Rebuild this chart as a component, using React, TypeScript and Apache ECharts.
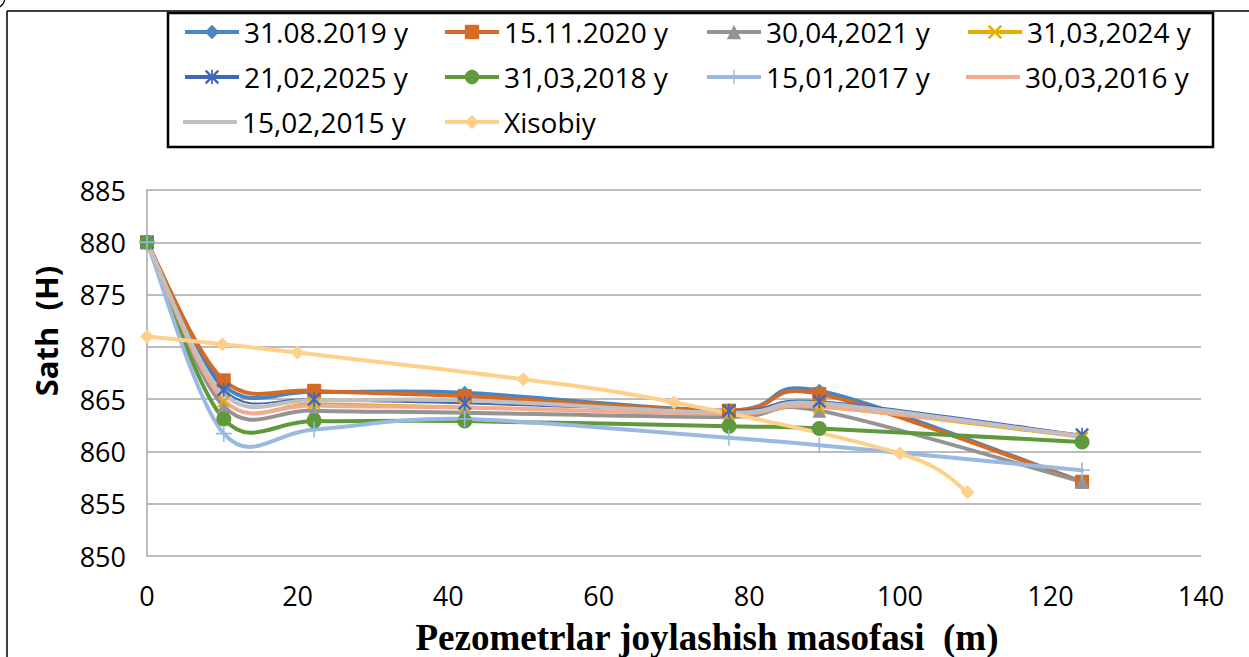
import React, { useEffect, useRef } from "react";
import * as echarts from "echarts";

// Distances of piezometers (m)
const distances = [0, 10.2, 22.2, 42.2, 77.3, 89.3, 124.2];
// Water level (H) for each measurement date
const lvl20190831 = [880, 866.3, 865.7, 865.6, 863.9, 865.8, 857.1];
const lvl20201115 = [880, 866.8, 865.8, 865.3, 863.9, 865.5, 857.1];
const lvl20210430 = [880, 864.3, 863.9, 863.7, 863.3, 863.9, 857.1];
const lvl20240331 = [880, 864.8, 864.6, 864.3, 863.6, 864.2, 861.3];
const lvl20250221 = [880, 865.9, 865.0, 864.6, 863.9, 864.8, 861.6];
const lvl20180331 = [880, 863.1, 862.9, 862.9, 862.4, 862.2, 860.9];
const lvl20170115 = [880, 861.7, 862.1, 863.1, 861.3, 860.6, 858.2];
const lvl20160330 = [880, 864.9, 864.4, 864.2, 863.6, 864.3, 861.5];
const lvl20150215 = [880, 865.5, 864.9, 864.9, 863.7, 864.6, 861.4];
// Calculated ("Xisobiy") curve
const xisobiyX = [0, 10, 20, 50, 70, 100, 109];
const xisobiyY = [871, 870.25, 869.45, 866.9, 864.7, 859.8, 856.1];

const seriesNames = [
  "31.08.2019 y",
  "15.11.2020 y",
  "30,04,2021 y",
  "31,03,2024 y",
  "21,02,2025 y",
  "31,03,2018 y",
  "15,01,2017 y",
  "30,03,2016 y",
  "15,02,2015 y",
  "Xisobiy",
];

const X_PATH = "path://M0,1.2L1.2,0L10,8.8L8.8,10Z M8.8,0L10,1.2L1.2,10L0,8.8Z";
const STAR_PATH =
  "path://M0,1.2L1.2,0L10,8.8L8.8,10Z M8.8,0L10,1.2L1.2,10L0,8.8Z M4.4,0L5.6,0L5.6,10L4.4,10Z";
const PLUS_PATH = "path://M4.5,0L5.5,0L5.5,10L4.5,10Z M0,4.5L10,4.5L10,5.5L0,5.5Z";

const FONT = "'Open Sans', 'Noto Sans', sans-serif";

// Smoothed curve (Excel-like Catmull-Rom Bezier) drawn through the axis scales
function curveSeries(key: string, xs: number[], ys: number[], color: string, width: number, z: number) {
  const n = xs.length;
  const cl = (k: number) => Math.max(0, Math.min(n - 1, k));
  return {
    name: "_curve_" + key,
    type: "custom",
    coordinateSystem: "cartesian2d",
    data: xs.map((x, i) => [x, ys[i]]),
    encode: { x: 0, y: 1 },
    silent: true,
    z,
    renderItem: (params: any, api: any) => {
      const i = params.dataIndex;
      if (i >= n - 1) return { type: "group", children: [] };
      const pt = (k: number) => api.coord([xs[cl(k)], ys[cl(k)]]);
      const p0 = pt(i - 1);
      const p1 = pt(i);
      const p2 = pt(i + 1);
      const p3 = pt(i + 2);
      return {
        type: "bezierCurve",
        shape: {
          x1: p1[0],
          y1: p1[1],
          cpx1: p1[0] + (p2[0] - p0[0]) / 6,
          cpy1: p1[1] + (p2[1] - p0[1]) / 6,
          cpx2: p2[0] - (p3[0] - p1[0]) / 6,
          cpy2: p2[1] - (p3[1] - p1[1]) / 6,
          x2: p2[0],
          y2: p2[1],
        },
        style: { stroke: color, lineWidth: width, fill: null, lineCap: "round" },
      };
    },
  };
}

function markerSeries(
  name: string,
  xs: number[],
  ys: number[],
  color: string,
  symbol: string,
  symbolSize: number,
  z: number
) {
  return {
    name,
    type: "line",
    data: xs.map((x, i) => [x, ys[i]]),
    symbol,
    symbolSize,
    showSymbol: symbol !== "none",
    symbolKeepAspect: true,
    lineStyle: { color, width: 4, opacity: 0 },
    itemStyle: { color },
    emphasis: { disabled: true },
    silent: true,
    z,
  };
}

export default function App() {
  const ref = useRef<HTMLDivElement>(null);
  useEffect(() => {
    if (!ref.current) return;
    const chart = echarts.init(ref.current, undefined, { renderer: "svg" });

    const colX = [183, 443, 705, 966];
    const rowY = [35, 80, 125];
    const noMarker = [false, false, false, false, false, false, false, true, true, false];
    const legends = seriesNames.map((n, i) => ({
      data: [n],
      left: colX[i % 4],
      top: rowY[Math.floor(i / 4)] - 17,
      padding: 0,
      itemWidth: 54,
      itemHeight: noMarker[i] ? 4 : 18,
      icon: noMarker[i] ? "rect" : undefined,
      itemGap: 0,
      selectedMode: false,
      lineStyle: { width: 4, opacity: 1 },
      textStyle: { fontSize: 28, fontFamily: FONT, color: "#000" },
    }));

    const defs: [string, number[], number[], string, string, number, number][] = [
      [seriesNames[0], distances, lvl20190831, "#4a85c1", "diamond", 14, 4],
      [seriesNames[1], distances, lvl20201115, "#d36b27", "rect", 14, 4],
      [seriesNames[2], distances, lvl20210430, "#949494", "triangle", 14, 4],
      [seriesNames[3], distances, lvl20240331, "#e6ac00", X_PATH, 13, 2],
      [seriesNames[4], distances, lvl20250221, "#4169b8", STAR_PATH, 14, 2],
      [seriesNames[5], distances, lvl20180331, "#5e9a3c", "circle", 15, 4],
      [seriesNames[6], distances, lvl20170115, "#9ab9e0", PLUS_PATH, 16, 4],
      [seriesNames[7], distances, lvl20160330, "#f2aa90", "none", 0, 4],
      [seriesNames[8], distances, lvl20150215, "#c0c0c0", "none", 0, 4],
      [seriesNames[9], xisobiyX, xisobiyY, "#ffd08a", "diamond", 14, 4],
    ];
    const series: any[] = [];
    defs.forEach((d, k) => {
      series.push(curveSeries(String(k), d[1], d[2], d[3], d[6], 2));
      series.push(markerSeries(d[0], d[1], d[2], d[3], d[4], d[5], 2));
    });

    chart.setOption({
      animation: false,
      backgroundColor: "#ffffff",
      grid: { left: 147, right: 48, top: 190, bottom: 101, containLabel: false },
      legend: legends,
      xAxis: {
        type: "value",
        min: 0,
        max: 140,
        interval: 20,
        axisLine: { show: false },
        axisTick: { show: false },
        splitLine: { show: false },
        axisLabel: { fontSize: 27, fontFamily: FONT, color: "#000", margin: 26 },
      },
      yAxis: {
        type: "value",
        min: 850,
        max: 885,
        interval: 5,
        axisLine: { show: true, lineStyle: { color: "#a6a6a6", width: 1.5 } },
        axisTick: { show: false },
        splitLine: { show: true, lineStyle: { color: "#a6a6a6", width: 1.5 } },
        axisLabel: { fontSize: 27, fontFamily: FONT, color: "#000", margin: 21 },
      },
      graphic: [
        {
          type: "line",
          shape: { x1: 7, y1: 11, x2: 1249, y2: 11 },
          style: { stroke: "#000", lineWidth: 1.5 },
          z: 0,
        },
        {
          type: "line",
          shape: { x1: 7, y1: 11, x2: 7, y2: 657 },
          style: { stroke: "#000", lineWidth: 1.5 },
          z: 0,
        },
        {
          type: "circle",
          shape: { cx: -7, cy: -3, r: 12 },
          style: { fill: "none", stroke: "#000", lineWidth: 1.2 },
          z: 0,
        },
        {
          type: "rect",
          shape: { x: 168, y: 13, width: 1045, height: 134 },
          style: { fill: "#fff", stroke: "#000", lineWidth: 2.5 },
          z: 0,
        },
        {
          type: "text",
          x: 46,
          y: 331,
          rotation: Math.PI / 2,
          style: {
            text: "Sath  (H)",
            font: "bold 31px 'Open Sans', sans-serif",
            fill: "#000",
            align: "center",
            verticalAlign: "middle",
          },
          z: 5,
        },
        {
          type: "text",
          x: 707,
          y: 637,
          style: {
            text: "Pezometrlar joylashish masofasi  (m)",
            font: "bold 37px 'Liberation Serif', 'Times New Roman', serif",
            fill: "#000",
            align: "center",
            verticalAlign: "middle",
          },
          z: 5,
        },
      ],
      series,
    });
    return () => chart.dispose();
  }, []);
  return (
    <div
      ref={ref}
      style={{ position: "fixed", left: 0, top: 0, width: 1249, height: 657, background: "#fff" }}
    />
  );
}
